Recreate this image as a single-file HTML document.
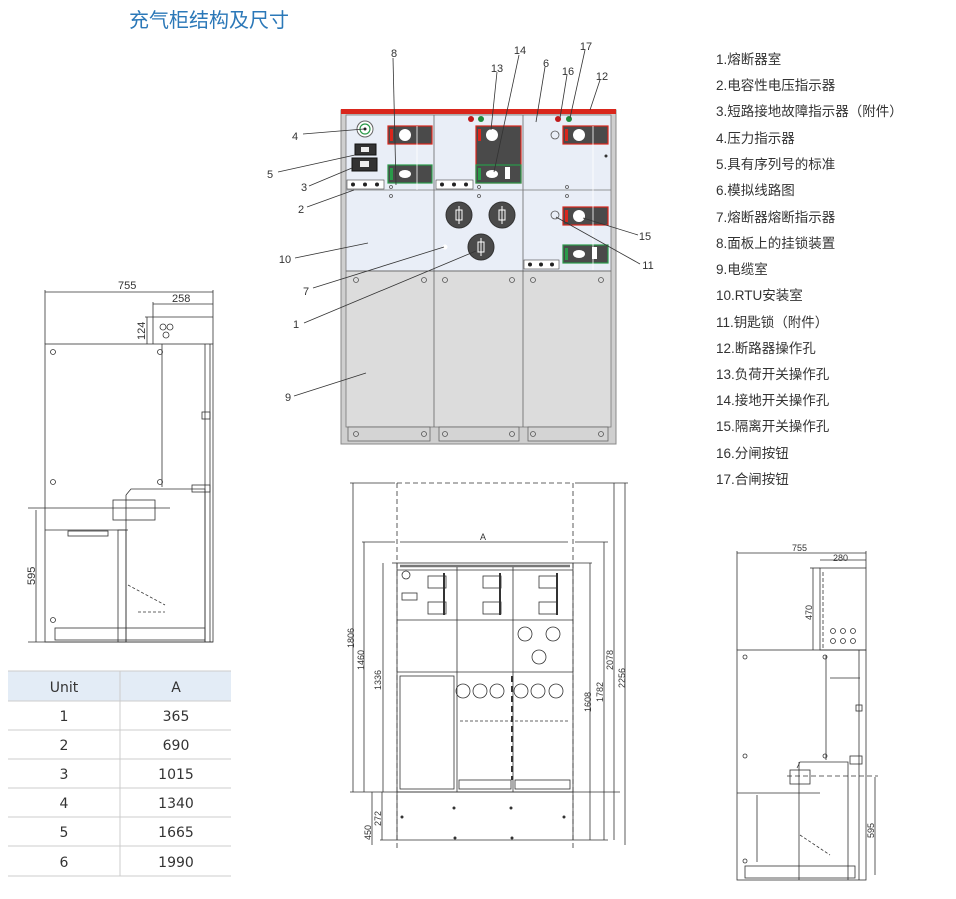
<!DOCTYPE html>
<html><head><meta charset="utf-8"><style>
html,body{margin:0;padding:0;background:#fff;width:956px;height:899px;overflow:hidden}
svg{display:block}
.t{font-family:"Liberation Sans","Noto Sans CJK SC",sans-serif}
</style></head><body>
<svg width="956" height="899" viewBox="0 0 956 899" xmlns="http://www.w3.org/2000/svg" class="t">
<!-- Title -->
<text x="129" y="27" font-size="20" fill="#2b78b8" font-family="Liberation Sans, Noto Sans CJK SC, sans-serif">充气柜结构及尺寸</text>

<!-- ===== Main front view ===== -->
<g>
<rect x="341" y="110" width="275" height="334" fill="#cfcfcf" stroke="#888" stroke-width="1"/>
<rect x="346" y="115" width="265" height="156" fill="#e9eef7" stroke="#777" stroke-width="0.8"/>
<rect x="346" y="271" width="265" height="156" fill="#dcdcdc" stroke="#777" stroke-width="0.8"/>
<rect x="341" y="109" width="275" height="5" fill="#d9261c"/>
<line x1="434" y1="115" x2="434" y2="427" stroke="#666" stroke-width="0.8"/>
<line x1="523" y1="115" x2="523" y2="427" stroke="#666" stroke-width="0.8"/>
<line x1="346" y1="190" x2="611" y2="190" stroke="#777" stroke-width="0.8"/>
<line x1="346" y1="271" x2="611" y2="271" stroke="#666" stroke-width="0.8"/>
<!-- feet -->
<rect x="348" y="427" width="82" height="14" fill="#d4d4d4" stroke="#666" stroke-width="0.8"/>
<rect x="439" y="427" width="80" height="14" fill="#d4d4d4" stroke="#666" stroke-width="0.8"/>
<rect x="528" y="427" width="80" height="14" fill="#d4d4d4" stroke="#666" stroke-width="0.8"/>
<g fill="none" stroke="#555" stroke-width="0.8">
<circle cx="356" cy="434" r="2.5"/><circle cx="424" cy="434" r="2.5"/>
<circle cx="445" cy="434" r="2.5"/><circle cx="512" cy="434" r="2.5"/>
<circle cx="533" cy="434" r="2.5"/><circle cx="601" cy="434" r="2.5"/>
<circle cx="356" cy="280" r="2.5"/><circle cx="424" cy="280" r="2.5"/>
<circle cx="445" cy="280" r="2.5"/><circle cx="512" cy="280" r="2.5"/>
<circle cx="533" cy="280" r="2.5"/><circle cx="601" cy="280" r="2.5"/>
<circle cx="391" cy="187" r="1.5"/><circle cx="391" cy="196" r="1.5"/>
<circle cx="479" cy="187" r="1.5"/><circle cx="479" cy="196" r="1.5"/>
<circle cx="567" cy="187" r="1.5"/><circle cx="567" cy="196" r="1.5"/>
<circle cx="555" cy="135" r="4"/><circle cx="555" cy="215" r="4"/>
</g>
<!-- pressure indicator -->
<circle cx="365" cy="129" r="8" fill="#fff" stroke="#666"/>
<circle cx="365" cy="129" r="5" fill="none" stroke="#2a9a4a" stroke-width="1.2"/>
<circle cx="365" cy="129" r="1.5" fill="#222"/>
<!-- boxes 5,3 -->
<rect x="355" y="144" width="21" height="11" fill="#333" stroke="#111"/>
<rect x="361" y="147" width="8" height="5" fill="#eee"/>
<rect x="352" y="158" width="25" height="13" fill="#333" stroke="#111"/>
<rect x="360" y="161" width="9" height="6" fill="#eee"/>
<!-- strips -->
<g fill="#fff" stroke="#444" stroke-width="0.6">
<rect x="347" y="180" width="37" height="9"/><rect x="436" y="180" width="37" height="9"/><rect x="524" y="260" width="35" height="9"/>
</g>
<g fill="#222">
<circle cx="353" cy="184.5" r="2"/><circle cx="365" cy="184.5" r="2"/><circle cx="377" cy="184.5" r="2"/>
<circle cx="442" cy="184.5" r="2"/><circle cx="454" cy="184.5" r="2"/><circle cx="466" cy="184.5" r="2"/>
<circle cx="530" cy="264.5" r="2"/><circle cx="541" cy="264.5" r="2"/><circle cx="552" cy="264.5" r="2"/>
</g>
<!-- col1 red/green -->
<rect x="388" y="126" width="44" height="18" fill="#4a4a4a" stroke="#d9261c" stroke-width="1.2"/>
<rect x="390" y="129" width="3" height="12" fill="#d9261c"/>
<circle cx="405" cy="135" r="6" fill="#fff"/>
<rect x="388" y="165" width="44" height="18" fill="#4a4a4a" stroke="#2a9a4a" stroke-width="1.2"/>
<rect x="390" y="168" width="3" height="12" fill="#2a9a4a"/>
<ellipse cx="405" cy="174" rx="6" ry="4" fill="#fff"/>
<line x1="417" y1="126" x2="417" y2="190" stroke="#fff" stroke-width="0.8"/>
<!-- col2 box -->
<rect x="476" y="126" width="45" height="57" fill="#4a4a4a" stroke="#d9261c" stroke-width="1.2"/>
<rect x="476" y="165" width="45" height="18" fill="#4a4a4a" stroke="#2a9a4a" stroke-width="1.2"/>
<rect x="478" y="129" width="3" height="12" fill="#d9261c"/>
<rect x="478" y="168" width="3" height="12" fill="#2a9a4a"/>
<circle cx="492" cy="135" r="6" fill="#fff"/>
<ellipse cx="492" cy="174" rx="6" ry="4" fill="#fff"/>
<rect x="505" y="167" width="5" height="12" fill="#fff"/>
<circle cx="471" cy="119" r="3" fill="#c0191b"/><circle cx="481" cy="119" r="3" fill="#1f8a3a"/>
<circle cx="558" cy="119" r="3" fill="#c0191b"/><circle cx="569" cy="119" r="3" fill="#1f8a3a"/>
<!-- col3 -->
<rect x="563" y="126" width="45" height="18" fill="#4a4a4a" stroke="#d9261c" stroke-width="1.2"/>
<rect x="565" y="129" width="3" height="12" fill="#d9261c"/>
<circle cx="579" cy="135" r="6" fill="#fff"/>
<rect x="563" y="207" width="45" height="18" fill="#4a4a4a" stroke="#d9261c" stroke-width="1.2"/>
<rect x="565" y="210" width="3" height="12" fill="#d9261c"/>
<circle cx="579" cy="216" r="6" fill="#fff"/>
<rect x="563" y="245" width="45" height="18" fill="#4a4a4a" stroke="#2a9a4a" stroke-width="1.2"/>
<rect x="565" y="248" width="3" height="12" fill="#2a9a4a"/>
<ellipse cx="579" cy="254" rx="6" ry="4" fill="#fff"/>
<rect x="592" y="247" width="5" height="12" fill="#fff"/>
<line x1="593" y1="126" x2="593" y2="270" stroke="#fff" stroke-width="0.8"/>
<circle cx="606" cy="156" r="1.5" fill="#333"/>
<!-- fuses -->
<g fill="#4a4a4a" stroke="#333">
<circle cx="459" cy="215" r="13"/><circle cx="502" cy="215" r="13"/><circle cx="481" cy="247" r="13"/>
</g>
<g fill="none" stroke="#fff" stroke-width="1">
<rect x="456" y="210" width="6" height="10"/><line x1="459" y1="206" x2="459" y2="224"/>
<rect x="499" y="210" width="6" height="10"/><line x1="502" y1="206" x2="502" y2="224"/>
<rect x="478" y="242" width="6" height="10"/><line x1="481" y1="238" x2="481" y2="256"/>
</g>
<circle cx="445" cy="247" r="2.5" fill="#fff"/>
</g>
<!-- leaders & labels -->
<g stroke="#333" stroke-width="0.8" fill="none">
<line x1="393" y1="58" x2="396" y2="185"/>
<line x1="519" y1="55" x2="494" y2="172"/>
<line x1="497" y1="72" x2="491" y2="130"/>
<line x1="545" y1="67" x2="536" y2="122"/>
<line x1="567" y1="75" x2="560" y2="118"/>
<line x1="585" y1="50" x2="570" y2="118"/>
<line x1="600" y1="80" x2="590" y2="110"/>
<line x1="303" y1="134" x2="364" y2="129"/>
<line x1="278" y1="172" x2="355" y2="155"/>
<line x1="309" y1="186" x2="352" y2="168"/>
<line x1="307" y1="207" x2="354" y2="190"/>
<line x1="295" y1="258" x2="368" y2="243"/>
<line x1="313" y1="288" x2="444" y2="247"/>
<line x1="304" y1="323" x2="476" y2="251"/>
<line x1="294" y1="396" x2="366" y2="373"/>
<line x1="638" y1="235" x2="583" y2="218"/>
<line x1="640" y1="264" x2="556" y2="217"/>
</g>
<g font-size="11" fill="#333" text-anchor="middle">
<text x="394" y="57">8</text><text x="520" y="54">14</text><text x="497" y="72">13</text>
<text x="546" y="67">6</text><text x="568" y="75">16</text><text x="586" y="50">17</text>
<text x="602" y="80">12</text><text x="295" y="140">4</text><text x="270" y="178">5</text>
<text x="304" y="191">3</text><text x="301" y="213">2</text><text x="285" y="263">10</text>
<text x="306" y="295">7</text><text x="296" y="328">1</text><text x="288" y="401">9</text>
<text x="645" y="240">15</text><text x="648" y="269">11</text>
</g>

<!-- ===== Item list ===== -->
<g font-size="13.5" fill="#333" font-family="Liberation Sans, Noto Sans CJK SC, sans-serif">
<text x="716" y="64">1.熔断器室</text>
<text x="716" y="90">2.电容性电压指示器</text>
<text x="716" y="116">3.短路接地故障指示器（附件）</text>
<text x="716" y="143">4.压力指示器</text>
<text x="716" y="169">5.具有序列号的标准</text>
<text x="716" y="195">6.模拟线路图</text>
<text x="716" y="222">7.熔断器熔断指示器</text>
<text x="716" y="248">8.面板上的挂锁装置</text>
<text x="716" y="274">9.电缆室</text>
<text x="716" y="300">10.RTU安装室</text>
<text x="716" y="327">11.钥匙锁（附件）</text>
<text x="716" y="353">12.断路器操作孔</text>
<text x="716" y="379">13.负荷开关操作孔</text>
<text x="716" y="405">14.接地开关操作孔</text>
<text x="716" y="431">15.隔离开关操作孔</text>
<text x="716" y="458">16.分闸按钮</text>
<text x="716" y="484">17.合闸按钮</text>
</g>

<!-- ===== Left side view ===== -->
<g stroke="#333" stroke-width="0.8" fill="none">
<line x1="45" y1="290" x2="45" y2="344"/><line x1="213" y1="290" x2="213" y2="344"/>
<line x1="45" y1="292" x2="213" y2="292"/>
<line x1="153" y1="302" x2="153" y2="344"/>
<line x1="153" y1="304" x2="213" y2="304"/>
<line x1="145" y1="317" x2="213" y2="317"/>
<line x1="147" y1="317" x2="147" y2="344"/>
<rect x="45" y="344" width="168" height="298"/>
<line x1="162" y1="344" x2="162" y2="487"/>
<line x1="205" y1="344" x2="205" y2="642"/>
<line x1="210" y1="344" x2="210" y2="642"/>
<line x1="28" y1="508" x2="170" y2="508"/>
<line x1="45" y1="530" x2="128" y2="530"/>
<line x1="36" y1="510" x2="36" y2="642"/>
<line x1="28" y1="642" x2="213" y2="642"/>
<path d="M126 495 L131 489 L205 489 L205 642"/>
<path d="M126 495 L126 642"/>
<rect x="113" y="500" width="42" height="20"/>
<rect x="118" y="530" width="8" height="112"/>
<rect x="55" y="628" width="150" height="12"/>
<rect x="68" y="531" width="40" height="5"/>
<path d="M128 585 L165 605 M138 612 L165 612" stroke-dasharray="3,2"/>
<rect x="202" y="412" width="8" height="7"/>
<rect x="192" y="485" width="18" height="7"/>
<circle cx="53" cy="352" r="2.5"/><circle cx="160" cy="352" r="2.5"/>
<circle cx="53" cy="482" r="2.5"/><circle cx="160" cy="482" r="2.5"/>
<circle cx="53" cy="620" r="2.5"/>
<circle cx="163" cy="327" r="3"/><circle cx="170" cy="327" r="3"/><circle cx="166" cy="335" r="3"/>
</g>
<g font-size="11" fill="#333">
<text x="118" y="289">755</text><text x="172" y="302">258</text>
<text transform="translate(145,340) rotate(-90)">124</text>
<text transform="translate(35,585) rotate(-90)">595</text>
</g>

<!-- ===== Table ===== -->
<rect x="8" y="671" width="223" height="30" fill="#e3ecf6"/>
<g stroke="#ccc" stroke-width="1">
<line x1="8" y1="671" x2="231" y2="671"/>
<line x1="8" y1="701" x2="231" y2="701"/><line x1="8" y1="730" x2="231" y2="730"/>
<line x1="8" y1="759" x2="231" y2="759"/><line x1="8" y1="788" x2="231" y2="788"/>
<line x1="8" y1="817" x2="231" y2="817"/><line x1="8" y1="846" x2="231" y2="846"/>
<line x1="8" y1="876" x2="231" y2="876"/>
<line x1="120" y1="671" x2="120" y2="876"/>
</g>
<g font-size="14" fill="#333" text-anchor="middle" font-family="DejaVu Sans, sans-serif">
<text x="64" y="692">Unit</text><text x="176" y="692">A</text>
<text x="64" y="721">1</text><text x="176" y="721">365</text>
<text x="64" y="750">2</text><text x="176" y="750">690</text>
<text x="64" y="779">3</text><text x="176" y="779">1015</text>
<text x="64" y="808">4</text><text x="176" y="808">1340</text>
<text x="64" y="837">5</text><text x="176" y="837">1665</text>
<text x="64" y="867">6</text><text x="176" y="867">1990</text>
</g>

<!-- ===== Bottom center view ===== -->
<g stroke="#333" stroke-width="0.8" fill="none">
<line x1="397" y1="483" x2="397" y2="850" stroke-dasharray="5,3"/>
<line x1="573" y1="483" x2="573" y2="850" stroke-dasharray="5,3"/>
<line x1="397" y1="483" x2="573" y2="483" stroke-dasharray="5,3"/>
<line x1="350" y1="483" x2="395" y2="483"/><line x1="575" y1="483" x2="628" y2="483"/>
<line x1="362" y1="542" x2="395" y2="542"/><line x1="575" y1="542" x2="608" y2="542"/>
<line x1="400" y1="542" x2="568" y2="542"/>
<rect x="397" y="563" width="176" height="229"/>
<line x1="392" y1="563" x2="397" y2="563"/><line x1="573" y1="563" x2="592" y2="563"/>
<line x1="400" y1="566" x2="570" y2="566" stroke-width="2.5" stroke="#777"/>
<line x1="397" y1="570" x2="573" y2="570"/>
<line x1="397" y1="620" x2="573" y2="620"/>
<line x1="397" y1="672" x2="573" y2="672"/>
<line x1="457" y1="567" x2="457" y2="792"/>
<line x1="513" y1="567" x2="513" y2="792"/>
<rect x="400" y="676" width="54" height="113"/>
<line x1="350" y1="792" x2="620" y2="792"/>
<line x1="397" y1="792" x2="397" y2="840"/><line x1="573" y1="792" x2="573" y2="840"/>
<line x1="380" y1="840" x2="608" y2="840"/>
<line x1="353" y1="483" x2="353" y2="792"/>
<line x1="364" y1="542" x2="364" y2="792"/>
<line x1="383" y1="563" x2="383" y2="792"/>
<line x1="372" y1="792" x2="372" y2="845"/>
<line x1="382" y1="792" x2="382" y2="840"/>
<line x1="590" y1="563" x2="590" y2="840"/>
<line x1="604" y1="542" x2="604" y2="840"/>
<line x1="614" y1="483" x2="614" y2="840"/>
<line x1="625" y1="483" x2="625" y2="845"/>
<rect x="402" y="593" width="15" height="7"/>
<circle cx="406" cy="575" r="4"/>
<rect x="428" y="576" width="18" height="12"/><rect x="428" y="602" width="18" height="12"/>
<rect x="483" y="576" width="18" height="12"/><rect x="483" y="602" width="18" height="12"/>
<rect x="539" y="576" width="18" height="12"/><rect x="539" y="602" width="18" height="12"/>
<line x1="444" y1="573" x2="444" y2="615" stroke-width="2"/>
<line x1="500" y1="573" x2="500" y2="615" stroke-width="2"/>
<line x1="557" y1="573" x2="557" y2="615" stroke-width="2"/>
<circle cx="525" cy="634" r="7"/><circle cx="553" cy="634" r="7"/><circle cx="539" cy="657" r="7"/>
<circle cx="463" cy="691" r="7"/><circle cx="480" cy="691" r="7"/><circle cx="497" cy="691" r="7"/>
<circle cx="521" cy="691" r="7"/><circle cx="538" cy="691" r="7"/><circle cx="556" cy="691" r="7"/>
<line x1="460" y1="721" x2="570" y2="721" stroke-dasharray="3,2"/>
<rect x="459" y="780" width="52" height="9"/><rect x="515" y="780" width="55" height="9"/>
<line x1="512" y1="676" x2="512" y2="780" stroke-dasharray="6,4" stroke-width="2"/>
</g>
<g fill="#333" font-size="9">
<circle cx="454" cy="808" r="1.5"/><circle cx="511" cy="808" r="1.5"/>
<circle cx="402" cy="817" r="1.5"/><circle cx="564" cy="817" r="1.5"/>
<circle cx="455" cy="838" r="1.5"/><circle cx="512" cy="838" r="1.5"/>
<text x="483" y="540" text-anchor="middle">A</text>
<text transform="translate(354,648) rotate(-90)">1806</text>
<text transform="translate(364,670) rotate(-90)">1460</text>
<text transform="translate(381,690) rotate(-90)">1336</text>
<text transform="translate(371,840) rotate(-90)">450</text>
<text transform="translate(381,826) rotate(-90)">272</text>
<text transform="translate(591,712) rotate(-90)">1608</text>
<text transform="translate(603,702) rotate(-90)">1782</text>
<text transform="translate(613,670) rotate(-90)">2078</text>
<text transform="translate(625,688) rotate(-90)">2256</text>
</g>

<!-- ===== Right side view ===== -->
<g stroke="#333" stroke-width="0.8" fill="none">
<line x1="737" y1="551" x2="737" y2="650"/><line x1="866" y1="551" x2="866" y2="568"/>
<line x1="737" y1="553" x2="866" y2="553"/>
<line x1="820" y1="560" x2="866" y2="560"/>
<rect x="820" y="568" width="46" height="82"/>
<line x1="810" y1="568" x2="820" y2="568"/>
<line x1="813" y1="568" x2="813" y2="650"/>
<line x1="823" y1="572" x2="823" y2="648" stroke-dasharray="4,2"/>
<rect x="737" y="650" width="129" height="230"/>
<line x1="826" y1="655" x2="826" y2="760"/>
<line x1="830" y1="678" x2="860" y2="678"/>
<line x1="859" y1="650" x2="859" y2="880"/>
<line x1="737" y1="793" x2="820" y2="793"/>
<line x1="787" y1="776" x2="878" y2="776" stroke-dasharray="5,3"/>
<line x1="875" y1="777" x2="875" y2="875"/>
<path d="M797 768 L800 762 L848 762 L848 880"/>
<line x1="799" y1="762" x2="799" y2="880"/>
<rect x="790" y="770" width="20" height="14"/>
<rect x="745" y="866" width="110" height="12"/>
<rect x="856" y="705" width="6" height="6"/>
<rect x="850" y="756" width="12" height="8"/>
<line x1="757" y1="795" x2="757" y2="862" />
<path d="M800 835 L830 855" stroke-dasharray="3,2"/>
<circle cx="833" cy="631" r="2.5"/><circle cx="843" cy="631" r="2.5"/><circle cx="853" cy="631" r="2.5"/>
<circle cx="833" cy="641" r="2.5"/><circle cx="843" cy="641" r="2.5"/><circle cx="853" cy="641" r="2.5"/>
<circle cx="745" cy="657" r="2"/><circle cx="825" cy="657" r="2"/>
<circle cx="745" cy="756" r="2"/><circle cx="825" cy="756" r="2"/>
<circle cx="745" cy="861" r="2"/>
</g>
<g fill="#333" font-size="9">
<text x="792" y="551">755</text><text x="833" y="561">280</text>
<text transform="translate(812,620) rotate(-90)">470</text>
<text transform="translate(874,838) rotate(-90)">595</text>
</g>
</svg>
</body></html>
